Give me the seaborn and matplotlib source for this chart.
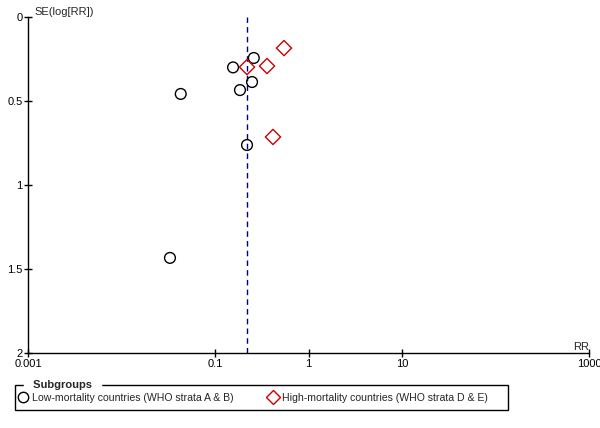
import matplotlib
matplotlib.use("Agg")
import matplotlib.pyplot as plt
import seaborn as sns
import pandas as pd
from matplotlib.patches import Rectangle
from matplotlib.lines import Line2D

# data
low_rr = [0.26, 0.156, 0.249, 0.185, 0.043, 0.22, 0.033]
low_se = [0.244, 0.30, 0.387, 0.435, 0.458, 0.762, 1.434]
high_rr = [0.547, 0.22, 0.36, 0.417]
high_se = [0.185, 0.298, 0.292, 0.714]
pooled_rr = 0.22

low_label = "Low-mortality countries (WHO strata A & B)"
high_label = "High-mortality countries (WHO strata D & E)"

df = pd.DataFrame({
    "RR": low_rr + high_rr,
    "SE": low_se + high_se,
    "group": [low_label] * len(low_rr) + [high_label] * len(high_rr),
})

sns.set_style("white")
plt.rcParams["font.family"] = ["Liberation Sans", "DejaVu Sans"]
fs = 8

fig = plt.figure(figsize=(6, 4.28), dpi=100)
ax = fig.add_axes([28 / 600, 1 - 353 / 428, 561 / 600, 336 / 428])

sns.scatterplot(data=df, x="RR", y="SE", hue="group", style="group",
                palette={low_label: "none", high_label: "none"},
                markers={low_label: "o", high_label: "D"},
                s=60, legend=False, ax=ax, zorder=3)
# open markers: black circles, red diamonds
cols = ["#000000"] * len(low_rr) + ["#cc0000"] * len(high_rr)
coll = ax.collections[0]
coll.set_facecolor("none")
coll.set_edgecolor(cols)
coll.set_linewidth(1.0)

ax.axvline(pooled_rr, color="#000080", linestyle=(0, (4, 3)), linewidth=1, zorder=2)

ax.set_xscale("log")
ax.set_xlim(0.001, 1000)
ax.set_ylim(2, 0)
ax.set_xticks([0.001, 0.1, 1, 10, 1000])
ax.set_xticklabels(["0.001", "0.1", "1", "10", "1000"])
ax.minorticks_off()
ax.set_yticks([0, 0.5, 1, 1.5, 2])
ax.set_yticklabels(["0", "0.5", "1", "1.5", "2"])
ax.tick_params(axis="both", bottom=True, left=True, direction="inout",
               length=6, width=1, pad=1, labelsize=fs, colors="black")
ax.set_xlabel("")
ax.set_ylabel("")
for side in ["top", "right"]:
    ax.spines[side].set_visible(False)
for side in ["left", "bottom"]:
    ax.spines[side].set_color("black")
    ax.spines[side].set_linewidth(1)

ax.text(0.012, 1.0, "SE(log[RR])", transform=ax.transAxes, ha="left", va="bottom",
        fontsize=fs)
ax.text(1.0, 0.003, "RR", transform=ax.transAxes, ha="right", va="bottom", fontsize=fs)

# legend box
fig.patches.append(Rectangle((15 / 600, 1 - 410 / 428), 493 / 600, 25 / 428,
                             transform=fig.transFigure, fill=False,
                             edgecolor="black", linewidth=1))
fig.text(30 / 600, 1 - 385 / 428, " Subgroups ", fontweight="bold", fontsize=fs,
         ha="left", va="center", backgroundcolor="white")
handles = [
    Line2D([], [], marker="o", linestyle="none", markerfacecolor="none",
           markeredgecolor="black", markersize=7.5, label=low_label),
    Line2D([], [], marker="D", linestyle="none", markerfacecolor="none",
           markeredgecolor="#cc0000", markersize=7, label=high_label),
]
fig.legend(handles=handles, loc="center left", bbox_to_anchor=(11 / 600, 1 - 398 / 428),
           ncol=2, frameon=False, handletextpad=0.3, columnspacing=3.1,
           handlelength=1.2, borderpad=0, fontsize=7.6)

fig.savefig("out.png", dpi=100)
